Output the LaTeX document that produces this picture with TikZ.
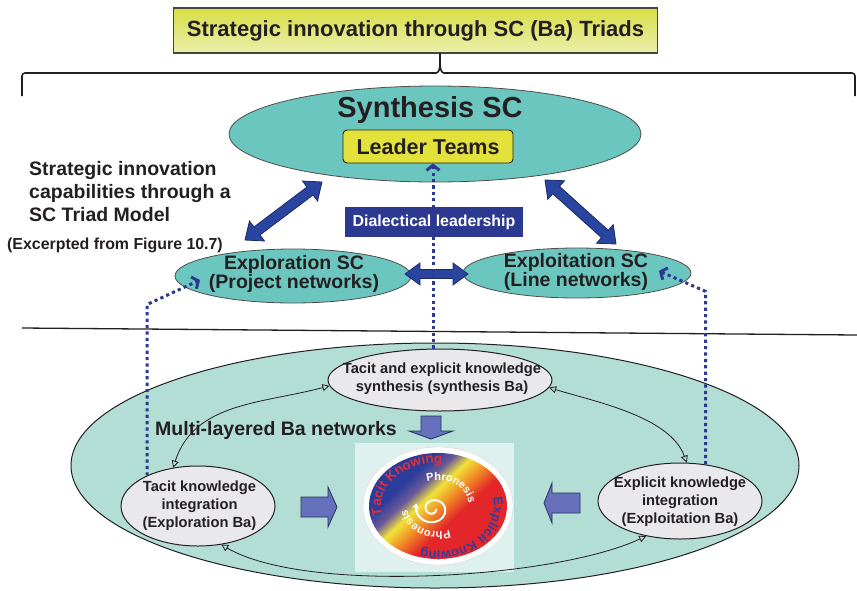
\documentclass[tikz,border=0pt]{standalone}
\usepackage{fontspec}
\setmainfont{Liberation Sans}
\usetikzlibrary{shapes.geometric, arrows.meta, calc, decorations.text}

\definecolor{ink}{HTML}{231F20}
\definecolor{scteal}{HTML}{6CC6C0}
\definecolor{paleteal}{HTML}{B2DED6}
\definecolor{bagray}{HTML}{E9E9EC}
\definecolor{dlblue}{HTML}{2B3990}
\definecolor{arrowblue}{HTML}{2A45A0}
\definecolor{arrowedge}{HTML}{1B2A6B}
\definecolor{blockblue}{HTML}{6571BC}
\definecolor{blockedge}{HTML}{2A2F5A}
\definecolor{leaderyellow}{HTML}{E2E23A}
\definecolor{titletop}{HTML}{D8DE44}
\definecolor{titlebot}{HTML}{EAEFAE}
\definecolor{titleedge}{HTML}{46463A}
\definecolor{logobg}{HTML}{DFF1EE}
\definecolor{logoblue}{HTML}{2B3C9B}
\definecolor{logoviolet}{HTML}{6A5A9A}
\definecolor{logoyellow}{HTML}{F2E23A}
\definecolor{logoorange}{HTML}{F08A24}
\definecolor{logored}{HTML}{E3262A}
\definecolor{tacitred}{HTML}{E0303A}
\definecolor{explicitblue}{HTML}{3A3A9A}

\pgfdeclarehorizontalshading{phronshade}{100bp}{color(0bp)=(logoblue); color(36bp)=(logoblue); color(41bp)=(logoviolet); color(45.5bp)=(logoyellow); color(51bp)=(logoorange); color(57bp)=(logored); color(100bp)=(logored)}

% fat double-headed arrow between two named points:
% #1 style, #2 start, #3 end, #4 shaft half width, #5 head half width, #6 head length
\newcommand\fatdouble[6]{%
  \filldraw[#1] (#2)
    -- ($(#2)!#6!(#3)!#5!90:(#3)$)
    -- ($(#2)!#6!(#3)!#4!90:(#3)$)
    -- ($(#3)!#6!(#2)!#4!-90:(#2)$)
    -- ($(#3)!#6!(#2)!#5!-90:(#2)$)
    -- (#3)
    -- ($(#3)!#6!(#2)!#5!90:(#2)$)
    -- ($(#3)!#6!(#2)!#4!90:(#2)$)
    -- ($(#2)!#6!(#3)!#4!-90:(#3)$)
    -- ($(#2)!#6!(#3)!#5!-90:(#3)$)
    -- cycle;}
% fat single-headed arrow from #2 to #3
\newcommand\fatsingle[6]{%
  \filldraw[#1] ($(#2)!#4!90:(#3)$)
    -- ($(#3)!#6!(#2)!#4!-90:(#2)$)
    -- ($(#3)!#6!(#2)!#5!-90:(#2)$)
    -- (#3)
    -- ($(#3)!#6!(#2)!#5!90:(#2)$)
    -- ($(#3)!#6!(#2)!#4!90:(#2)$)
    -- ($(#2)!#4!-90:(#3)$)
    -- cycle;}

\begin{document}
\begin{tikzpicture}[x=1pt, y=1pt,
  every node/.style={text=ink},
  titlebox/.style={draw=titleedge, line width=1.6pt, top color=titletop, bottom color=titlebot,
    minimum width=484pt, minimum height=45pt, inner sep=0pt,
    font=\bfseries\fontsize{22}{26}\selectfont},
  bracepath/.style={draw=ink, line width=1.6pt},
  scell/.style={ellipse, draw=ink!80, line width=0.8pt, fill=scteal, inner sep=0pt},
  sctext/.style={align=center, inner sep=0pt, font=\bfseries\fontsize{19.5}{19}\selectfont},
  leaderbox/.style={draw=ink, line width=0.9pt, fill=leaderyellow, rounded corners=4pt,
    minimum width=170pt, minimum height=33pt, inner sep=0pt,
    font=\bfseries\fontsize{21.5}{24}\selectfont},
  sidetext/.style={align=left, inner sep=0pt, font=\bfseries\fontsize{19.5}{23}\selectfont},
  dialbox/.style={fill=dlblue, text=white, minimum width=178pt, minimum height=30pt, inner sep=0pt,
    font=\bfseries\fontsize{15.9}{18}\selectfont},
  bigell/.style={ellipse, draw=ink, line width=1pt, fill=paleteal, inner sep=0pt},
  baell/.style={ellipse, draw=ink, line width=1pt, fill=bagray, inner sep=0pt},
  batext/.style={align=center, inner sep=0pt, font=\bfseries\fontsize{14.7}{18}\selectfont},
  dotline/.style={draw=dlblue, line width=3pt, dash pattern=on 3.2pt off 3.2pt,
    -{Straight Barb[length=5pt, width=13pt]}},
  thinarr/.style={draw=ink, line width=0.8pt,
    {Triangle[open, length=7pt, width=7pt]}-{Triangle[open, length=7pt, width=7pt]}},
  fatarrow/.style={fill=arrowblue, draw=arrowedge, line width=0.8pt, line join=miter},
  blockarrow/.style={fill=blockblue, draw=blockedge, line width=0.8pt, line join=miter},
  sepline/.style={draw=ink, line width=1.3pt},
  logotext/.style={decorate, decoration={text along path, text align=center}}
]
\useasboundingbox (0,0) rectangle (857,-590);

% ---- heading and brace ----
\node[titlebox] (title) at (415.5,-30.5) {Strategic innovation through SC (Ba) Triads};
\coordinate (bracetip) at (440,-53);
\draw[bracepath] (22,-96) [rounded corners=3pt] -- (22,-73) -- (433,-73) [sharp corners]
  .. controls (438,-73) and (440,-70) .. (440,-64) -- (bracetip);
\draw[bracepath] (855,-96) [rounded corners=3pt] -- (855,-73) -- (447,-73) [sharp corners]
  .. controls (442,-73) and (440,-70) .. (440,-64);

% ---- SC triad ----
\node[scell, minimum width=412pt, minimum height=96pt] (synth) at (435,-134) {};
\node[font=\bfseries\fontsize{29}{30}\selectfont, inner sep=0pt] (synthtitle) at (430,-110) {Synthesis SC};
\node[leaderbox] (leader) at (428,-146.5) {Leader Teams};

\node[sidetext, anchor=north west] (capab) at (29,-161) {Strategic innovation\\capabilities through a\\SC Triad Model};
\node[font=\bfseries\fontsize{15.9}{18}\selectfont, inner sep=0pt, anchor=west] (excerpt) at (7,-245) {(Excerpted from Figure 10.7)};

\node[scell, minimum width=236pt, minimum height=54pt] (explor) at (293,-276) {};
\node[sctext] (explortext) at (294,-274) {Exploration SC\\(Project networks)};
\node[scell, minimum width=228pt, minimum height=50pt] (exploit) at (577,-273) {};
\node[sctext] (exploittext) at (576,-272) {Exploitation SC\\(Line networks)};

% fat arrows between the SC ellipses
\coordinate (la1) at ([shift={(-113,-48)}]synth.center);
\coordinate (la2) at ([shift={(-48,36)}]explor.center);
\coordinate (ra1) at ([shift={(110,-46)}]synth.center);
\coordinate (ra2) at ([shift={(39,29)}]exploit.center);
\coordinate (ma1) at ([shift={(112,2)}]explor.center);
\coordinate (ma2) at ([shift={(-109,-1)}]exploit.center);
\fatdouble{fatarrow}{la1}{la2}{5pt}{12.5pt}{15pt}
\fatdouble{fatarrow}{ra1}{ra2}{5pt}{12.5pt}{15pt}

% separator
\draw[sepline] (22,-328) -- (857,-335);

% ---- Ba networks ----
\node[bigell, minimum width=728pt, minimum height=245pt] (banet) at (435,-465.5) {};
\node[baell, minimum width=224pt, minimum height=62pt] (synthba) at (440,-380) {};
\node[batext] (synthbatext) at (442,-379) {Tacit and explicit knowledge\\synthesis (synthesis Ba)};
\node[baell, minimum width=154pt, minimum height=80pt] (tacit) at (198,-506) {};
\node[batext] (tacittext) at (199.5,-506) {Tacit knowledge\\integration\\(Exploration Ba)};
\node[baell, minimum width=164pt, minimum height=76pt] (explicit) at (680,-501) {};
\node[batext] (explicittext) at (680,-502) {Explicit knowledge\\integration\\(Exploitation Ba)};

\node[font=\bfseries\fontsize{19.5}{22}\selectfont, inner sep=0pt] (multi) at (276,-430) {Multi-layered Ba networks};

% phronesis emblem
\fill[logobg] (355,-443) rectangle (514,-572);
\node[ellipse, minimum width=150pt, minimum height=118pt, fill=white, draw=black!15, inner sep=0pt] (phron) at (438,-506) {};
\begin{scope}
  \clip (phron.center) ellipse[x radius=69, y radius=53];
  \shade[shading=phronshade, shading angle=-47] (phron.center) circle[radius=72];
\end{scope}
\path[logotext, decoration={text={|\bfseries\fontsize{13.5}{13}\selectfont|Tacit Knowing}, text color=tacitred}]
  ([shift={(202:57 and 43)}]phron.center) arc[start angle=202, end angle=78, x radius=57, y radius=43];
\path[logotext, decoration={text={|\bfseries\fontsize{13}{13}\selectfont|Explicit Knowing}, text color=explicitblue}]
  ([shift={(36:56 and 45)}]phron.center) arc[start angle=36, end angle=-130, x radius=56, y radius=45];
\path[logotext, decoration={text={|\bfseries\fontsize{11}{11}\selectfont|Phronesis}, text color=white}]
  ([shift={(135:31 and 26)}]phron.center) arc[start angle=135, end angle=-22, x radius=31, y radius=26];
\path[logotext, decoration={text={|\bfseries\fontsize{11}{11}\selectfont|Phronesis}, text color=white}]
  ([shift={(-55:31 and 26)}]phron.center) arc[start angle=-55, end angle=-188, x radius=31, y radius=26];
\draw[white, line width=2pt, -{Stealth[length=5pt, width=7pt]}, shift={(phron.center)}, shift={(-5,-3)}]
  plot[domain=0:560, samples=100, smooth] ({(2.5+15*\x/560)*cos(-\x)}, {(2.5+15*\x/560)*0.9*sin(-\x)});

% block arrows toward the emblem
\coordinate (da1) at ([shift={(-7,90)}]phron.center);
\coordinate (da2) at ([shift={(-7,67)}]phron.center);
\coordinate (rb1) at ([shift={(-137,-1)}]phron.center);
\coordinate (rb2) at ([shift={(-101,-1)}]phron.center);
\coordinate (lb1) at ([shift={(142,3)}]phron.center);
\coordinate (lb2) at ([shift={(106,3)}]phron.center);
\fatsingle{blockarrow}{da1}{da2}{10pt}{22pt}{8pt}
\fatsingle{blockarrow}{rb1}{rb2}{10pt}{20pt}{9pt}
\fatsingle{blockarrow}{lb1}{lb2}{10pt}{20pt}{8pt}

% knowledge-flow cycle
\draw[thinarr] (tacit.123) to[out=72, in=195] (synthba.183);
\draw[thinarr] (synthba.-4) to[out=-17, in=110, looseness=0.8] (explicit.80);
\draw[thinarr] (explicit.226) to[out=205, in=-30, looseness=0.6] (tacit.-59);

% ---- dotted leadership links ----
\coordinate (ltip) at ([shift={(-93,-4)}]explor.center);
\coordinate (rtip) at ([shift={(82,2)}]exploit.center);
\coordinate (cbot) at ([xshift=-7pt]synthba.north);
\draw[dotline] (tacit.149) -- ++(0,171) -- (ltip);
\draw[dotline] (explicit.55) -- ++(0,173) -- (rtip);
\draw[dotline] (cbot) -- (cbot |- leader.south);

\fatdouble{fatarrow}{ma1}{ma2}{4.5pt}{11pt}{15pt}
\draw[draw=dlblue, line width=3pt, dash pattern=on 3.2pt off 3.2pt] (cbot |- ma1) ++(0,-4) -- ++(0,9);

\node[dialbox] (dial) at (434,-222) {Dialectical leadership};
\end{tikzpicture}
\end{document}
